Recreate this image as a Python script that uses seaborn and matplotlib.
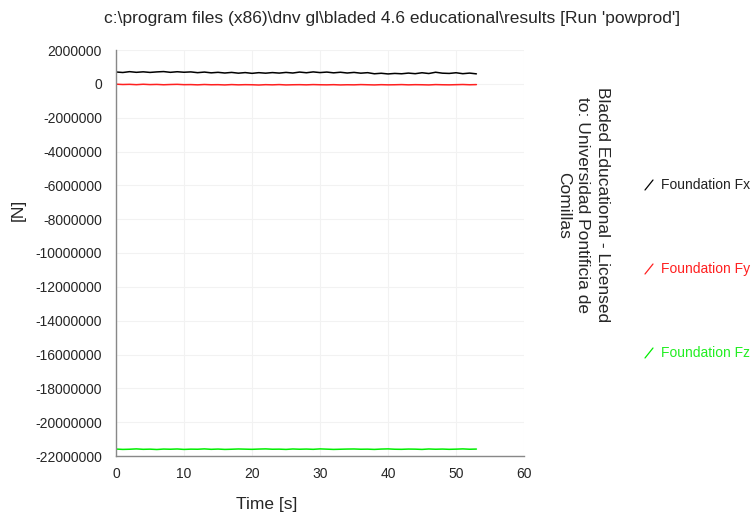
import numpy as np
import pandas as pd
import matplotlib
matplotlib.use("Agg")
import matplotlib.pyplot as plt
import seaborn as sns
from matplotlib.lines import Line2D

time_s = list(range(0, 54))
fx_kN = [700, 670, 720, 680, 710, 675, 705, 725, 680, 715, 685, 705, 660, 695, 650, 680, 640, 675, 630, 665,
         620, 660, 630, 665, 635, 675, 640, 695, 655, 705, 665, 695, 650, 685, 640, 675, 630, 660, 595, 625,
         585, 615, 595, 635, 600, 655, 610, 685, 630, 615, 655, 600, 635, 590]
fy_kN = [-20, -40, -30, -50, -25, -45, -35, -55, -40, -30, -50, -45, -60, -40, -55, -50, -65, -45, -60, -50,
         -55, -70, -50, -60, -45, -65, -55, -50, -60, -45, -55, -60, -50, -65, -55, -60, -45, -55, -65, -50,
         -60, -55, -45, -60, -50, -55, -65, -45, -55, -60, -50, -40, -55, -45]
fz_kN = [-21590, -21610, -21600, -21580, -21605, -21595, -21615, -21590, -21600, -21585, -21610, -21595,
         -21600, -21580, -21605, -21590, -21610, -21600, -21585, -21595, -21605, -21590, -21580, -21600,
         -21595, -21610, -21585, -21600, -21590, -21605, -21580, -21595, -21610, -21600, -21590, -21585,
         -21600, -21595, -21610, -21590, -21580, -21600, -21605, -21590, -21595, -21610, -21585, -21600,
         -21590, -21605, -21595, -21580, -21600, -21590]
series_names = ["Foundation Fx", "Foundation Fy", "Foundation Fz"]
series_colors = ["#000000", "#ff2020", "#00ee00"]
label_colors = ["#222222", "#ff2020", "#22ee22"]
y_ticks = list(range(2000000, -22000001, -2000000))
x_ticks = [0, 10, 20, 30, 40, 50, 60]

rows = []
for name, vals in zip(series_names, [fx_kN, fy_kN, fz_kN]):
    for t, v in zip(time_s, vals):
        rows.append({"t": t, "val": v * 1000.0, "series": name})
df = pd.DataFrame(rows)

sns.set_style("white")
plt.rcParams['font.family'] = ['Liberation Sans', 'DejaVu Sans']

fig = plt.figure(figsize=(7.52, 5.17), dpi=100)
ax = fig.add_axes([116 / 752, 1 - 456 / 517, 408 / 752, (456 - 50) / 517])

sns.lineplot(data=df, x="t", y="val", hue="series", palette=dict(zip(series_names, series_colors)),
             ax=ax, legend=False, linewidth=1.1)

ax.set_xlim(0, 60)
ax.set_ylim(-22000000, 2000000)
ax.set_xticks(x_ticks)
ax.set_yticks(y_ticks)
ax.set_yticklabels([str(v) for v in y_ticks])
ax.grid(True, color="#f2f2f2", linewidth=0.8)
for s in ["top", "right"]:
    ax.spines[s].set_visible(False)
for s in ["left", "bottom"]:
    ax.spines[s].set_color("#888888")
    ax.spines[s].set_linewidth(1.0)
ax.tick_params(axis="y", direction="out", length=9, color="#888888", labelsize=10, pad=1)
ax.tick_params(axis="x", direction="inout", length=12, color="#888888", labelsize=10, pad=2)
ax.set_xlabel("Time [s]", fontsize=12.5)
ax.set_ylabel("[N]", fontsize=12.5)
ax.xaxis.set_label_coords((267 - 116) / 408, -(505 - 456) / 406, transform=ax.transAxes)
ax.xaxis.label.set_va("center")
ax.yaxis.set_label_coords(-(116 - 18) / 408, (456 - 210) / 406, transform=ax.transAxes)
ax.yaxis.label.set_va("center")

fig.text(392 / 752, 1 - 19 / 517, "c:\\program files (x86)\\dnv gl\\bladed 4.6 educational\\results [Run 'powprod']",
         ha="center", va="center", fontsize=12.5)

fig.text(583 / 752, 1 - 205 / 517, "Bladed Educational - Licensed\nto: Universidad Pontificia de\nComillas",
         rotation=270, ha="center", va="center", fontsize=12.5, multialignment="center", linespacing=1.35)

leg_y = [185, 269, 353]
for name, col, lcol, yy in zip(series_names, series_colors, label_colors, leg_y):
    yf = 1 - yy / 517
    fig.add_artist(Line2D([645 / 752, 653 / 752], [yf - 5 / 517, yf + 5 / 517], color=col, linewidth=0.9,
                          transform=fig.transFigure))
    fig.text(661 / 752, yf, name, color=lcol, fontsize=10, va="center", ha="left")

fig.savefig("out.png", dpi=100)
